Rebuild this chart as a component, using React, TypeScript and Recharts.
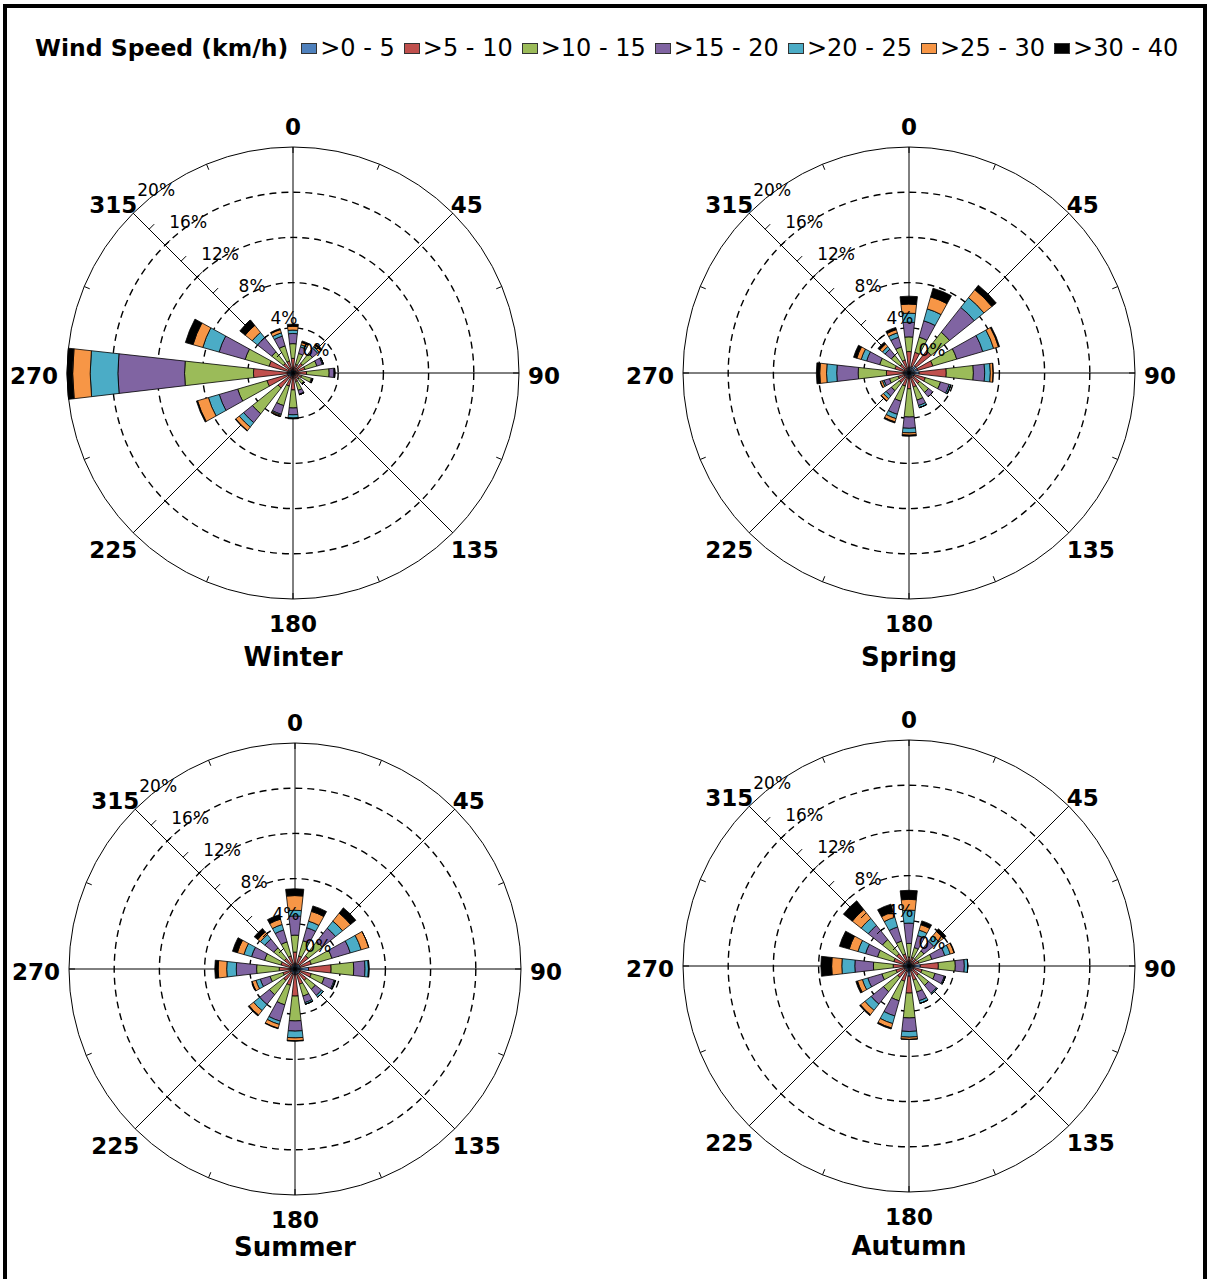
import {
  RadialBarChart,
  RadialBar,
  PolarAngleAxis,
  PolarRadiusAxis,
  PolarGrid,
} from "recharts";

const directions = [0, 22.5, 45, 67.5, 90, 112.5, 135, 157.5, 180, 202.5, 225, 247.5, 270, 292.5, 315, 337.5];
const speedBins = [">0 - 5", ">5 - 10", ">10 - 15", ">15 - 20", ">20 - 25", ">25 - 30", ">30 - 40"];
const binKeys = ["s1", "s2", "s3", "s4", "s5", "s6", "s7"];
const binColors = ["#4F81BD", "#C0504D", "#9BBB59", "#8064A2", "#4BACC6", "#F79646", "#000000"];
const radiusTicks = [0, 2, 4, 6, 8, 10, 12, 14, 16, 18, 20];
const ringValues = [4, 8, 12, 16];
const maxPct = 20;

// frequency (%) per direction, one row per direction, one column per speed bin
const winter = [
  [0.3, 1.0, 1.3, 0.9, 0.3, 0.33, 0.2],
  [0.2, 0.6, 1.0, 0.6, 0.2, 0.2, 0.15],
  [0.3, 0.8, 1.1, 0.6, 0.15, 0.2, 0.15],
  [0.3, 0.8, 1.1, 0.5, 0.1, 0, 0],
  [0.3, 0.9, 2.0, 0.43, 0.07, 0, 0],
  [0.2, 0.6, 0.9, 0.1, 0, 0, 0.05],
  [0.2, 0.5, 0.5, 0.1, 0, 0, 0],
  [0.2, 0.6, 0.8, 0.35, 0.05, 0, 0],
  [0.3, 1.2, 1.6, 0.6, 0.3, 0, 0.07],
  [0.3, 0.9, 1.8, 0.8, 0.1, 0.1, 0],
  [0.4, 1.3, 2.9, 1.0, 0.5, 0.4, 0.05],
  [0.5, 1.9, 2.7, 1.7, 1.0, 1.0, 0.1],
  [0.5, 3.0, 6.1, 5.9, 2.45, 1.55, 0.5],
  [0.4, 1.8, 2.2, 2.4, 1.5, 0.9, 0.7],
  [0.3, 0.8, 1.3, 1.6, 0.6, 0.8, 0.6],
  [0.3, 0.8, 1.4, 0.9, 0.3, 0.3, 0.1],
];

const spring = [
  [0.5, 1.4, 1.3, 1.3, 0.8, 0.8, 0.7],
  [0.6, 1.3, 1.4, 1.5, 1.1, 1.1, 0.8],
  [0.8, 1.7, 2.1, 2.8, 1.1, 0.9, 0.5],
  [0.8, 1.4, 2.2, 2.4, 1.0, 0.45, 0.1],
  [0.9, 2.4, 2.4, 1.0, 0.5, 0.25, 0],
  [0.5, 1.0, 1.4, 0.8, 0.15, 0, 0],
  [0.4, 0.8, 1.0, 0.5, 0, 0, 0],
  [0.4, 0.9, 1.2, 0.5, 0.2, 0, 0],
  [0.5, 0.9, 2.5, 1.0, 0.4, 0.2, 0.1],
  [0.4, 0.8, 1.4, 1.2, 0.4, 0.3, 0.1],
  [0.4, 0.7, 0.9, 0.6, 0.3, 0.25, 0.05],
  [0.4, 0.6, 0.8, 0.5, 0.15, 0.2, 0],
  [0.5, 1.5, 2.5, 1.9, 0.9, 0.6, 0.3],
  [0.4, 0.9, 1.4, 1.2, 0.5, 0.4, 0.3],
  [0.3, 0.7, 1.0, 0.7, 0.3, 0.3, 0.2],
  [0.4, 0.8, 1.2, 0.9, 0.4, 0.3, 0.2],
];

const summer = [
  [0.5, 1.0, 1.5, 1.7, 0.5, 1.3, 0.6],
  [0.4, 0.8, 1.4, 1.2, 0.6, 0.9, 0.5],
  [0.5, 1.0, 1.6, 1.5, 0.8, 0.9, 0.6],
  [0.5, 1.0, 1.9, 1.7, 1.0, 0.7, 0],
  [1.2, 2.0, 2.0, 1.0, 0.3, 0.05, 0],
  [0.5, 1.0, 1.2, 0.9, 0.1, 0, 0.05],
  [0.5, 0.8, 1.0, 0.7, 0.2, 0, 0],
  [0.5, 0.9, 1.1, 0.6, 0.15, 0, 0],
  [0.5, 1.9, 2.2, 0.9, 0.6, 0.25, 0.05],
  [0.5, 1.0, 1.8, 1.5, 0.3, 0.35, 0.05],
  [0.4, 0.9, 1.6, 1.1, 0.7, 0.5, 0.1],
  [0.4, 0.7, 1.2, 0.9, 0.4, 0.35, 0.05],
  [0.4, 1.0, 2.0, 1.8, 0.85, 0.75, 0.3],
  [0.4, 0.9, 1.5, 1.2, 0.7, 0.6, 0.45],
  [0.4, 0.8, 1.2, 1.0, 0.5, 0.3, 0.4],
  [0.4, 0.8, 1.3, 1.1, 0.5, 0.5, 0.4],
];

const autumn = [
  [0.4, 0.4, 1.2, 1.8, 1.15, 0.95, 0.8],
  [0.3, 0.5, 0.9, 1.1, 0.5, 0.5, 0.35],
  [0.3, 0.5, 0.9, 1.1, 0.6, 0.5, 0.3],
  [0.3, 0.6, 1.2, 1.2, 0.5, 0.35, 0.05],
  [1.0, 1.6, 1.5, 0.8, 0.3, 0, 0],
  [0.4, 0.8, 1.2, 0.85, 0.1, 0, 0],
  [0.4, 0.7, 1.1, 0.9, 0.1, 0, 0],
  [0.4, 0.9, 1.1, 0.8, 0.25, 0, 0],
  [0.9, 1.5, 2.2, 1.2, 0.5, 0.2, 0],
  [0.5, 0.9, 1.8, 1.4, 0.7, 0.4, 0.1],
  [0.4, 0.9, 1.6, 1.4, 0.7, 0.5, 0.1],
  [0.4, 0.8, 1.3, 1.3, 0.5, 0.45, 0.15],
  [0.5, 0.9, 1.75, 1.65, 1.15, 0.9, 0.95],
  [0.5, 0.9, 1.5, 1.1, 0.7, 0.8, 0.9],
  [0.4, 1.0, 1.6, 1.6, 0.8, 1.0, 1.0],
  [0.4, 0.7, 1.2, 1.3, 0.9, 0.5, 0.7],
];

const SIZE = 600;
const C = SIZE / 2;
const R = 226;
const HALF_BAND = 360 / directions.length / 2;

const toRows = (values: number[][]) =>
  directions.map((dir, i) => {
    const row: Record<string, number> = { dir };
    binKeys.forEach((key, j) => {
      row[key] = values[i][j];
    });
    return row;
  });

// bold compass labels outside the ring + short inward ticks on the ring
// (with the clockwise range the tick sits on the band edge, so shift by half a band)
const AngleTick = (props: any) => {
  const { payload, index } = props;
  const a = ((payload.coordinate + HALF_BAND) * Math.PI) / 180;
  const ux = Math.cos(a);
  const uy = -Math.sin(a);
  const px = C + R * ux;
  const py = C + R * uy;
  let label = null;
  if (index % 2 === 0) {
    let tx = px;
    let ty = py;
    let anchor: "start" | "middle" | "end" = "middle";
    if (Math.abs(ux) < 0.01) {
      ty = uy < 0 ? py - 12 : py + 33;
    } else if (Math.abs(uy) < 0.01) {
      anchor = ux > 0 ? "start" : "end";
      tx = px + (ux > 0 ? 9 : -9);
      ty = py + 11;
    } else {
      anchor = ux > 0 ? "start" : "end";
      tx = px + (ux > 0 ? -2 : 4);
      ty = uy < 0 ? py : py + 25;
    }
    label = (
      <text
        x={tx}
        y={ty}
        textAnchor={anchor}
        fontFamily="DejaVu Sans, sans-serif"
        fontWeight="bold"
        fontSize={23}
        fill="#000"
      >
        {payload.value}
      </text>
    );
  }
  return (
    <g>
      <line x1={px} y1={py} x2={C + (R - 6) * ux} y2={C + (R - 6) * uy} stroke="#000" strokeWidth={1} />
      {label}
    </g>
  );
};

const RadiusTick = (props: any) => {
  const { x, y, payload } = props;
  const v = payload.value;
  return (
    <g>
      {v > 0 && v < maxPct && <line x1={x} y1={y} x2={x + 5} y2={y - 5} stroke="#000" strokeWidth={1} />}
      {v % 4 === 0 && (
        <text
          x={x + 23}
          y={y - 23}
          textAnchor="middle"
          dominantBaseline="central"
          fontFamily="DejaVu Sans, sans-serif"
          fontSize={17}
          fill="#000"
        >
          {v}%
        </text>
      )}
    </g>
  );
};

const WindRose = ({ values, left, top }: { values: number[][]; left: number; top: number }) => {
  const data = toRows(values);
  return (
    <div style={{ position: "absolute", left, top, width: SIZE, height: SIZE }}>
      <RadialBarChart
        width={SIZE}
        height={SIZE}
        data={data}
        cx={C}
        cy={C}
        innerRadius={0}
        outerRadius={R}
        startAngle={90 - HALF_BAND}
        endAngle={90 - HALF_BAND - 360}
        layout="centric"
        barCategoryGap="22%"
        margin={{ top: 0, right: 0, bottom: 0, left: 0 }}
      >
        <PolarAngleAxis
          type="category"
          dataKey="dir"
          axisLineType="circle"
          axisLine={{ stroke: "#000", strokeWidth: 1 }}
          tickLine={false}
          tick={<AngleTick />}
        />
        <PolarRadiusAxis
          type="number"
          domain={[0, maxPct]}
          ticks={radiusTicks}
          angle={135}
          axisLine={false}
          tickLine={false}
          tick={<RadiusTick />}
        />
        {binKeys.map((k, i) => (
          <RadialBar
            key={k}
            dataKey={k}
            stackId="wind"
            fill={binColors[i]}
            stroke="#000"
            strokeWidth={0.8}
            isAnimationActive={false}
          />
        ))}
        <PolarGrid
          gridType="circle"
          radialLines={false}
          polarAngles={[]}
          polarRadius={ringValues.map((v) => (v / maxPct) * R)}
          stroke="#000"
          strokeWidth={1.4}
          strokeDasharray="7 5"
        />
        <PolarGrid
          gridType="circle"
          polarAngles={[90, 45, 0, -45, -90, -135, -180, -225]}
          polarRadius={[]}
          stroke="#000"
          strokeWidth={1}
        />
      </RadialBarChart>
    </div>
  );
};

const panels = [
  { title: "Winter", values: winter, x: 293, y: 373, titleY: 657 },
  { title: "Spring", values: spring, x: 909, y: 373, titleY: 657 },
  { title: "Summer", values: summer, x: 295, y: 969, titleY: 1247 },
  { title: "Autumn", values: autumn, x: 909, y: 966, titleY: 1246 },
];

export default function App() {
  return (
    <div
      style={{
        position: "absolute",
        left: 0,
        top: 0,
        width: 1209,
        height: 1279,
        overflow: "hidden",
        background: "#fff",
      }}
    >
      <div
        style={{
          position: "absolute",
          left: 3,
          top: 4,
          width: 1204,
          height: 1300,
          border: "4px solid #000",
          boxSizing: "border-box",
        }}
      />
      <div
        style={{
          position: "absolute",
          left: 35,
          top: 34,
          display: "flex",
          alignItems: "center",
          fontFamily: "DejaVu Sans, sans-serif",
          fontSize: 24,
          color: "#000",
          whiteSpace: "nowrap",
        }}
      >
        <span style={{ fontWeight: "bold", fontSize: 23.5, marginRight: 13 }}>Wind Speed (km/h)</span>
        {speedBins.map((b, i) => (
          <span key={b} style={{ display: "flex", alignItems: "center", marginRight: 9 }}>
            <span
              style={{
                display: "inline-block",
                width: 14,
                height: 9,
                background: binColors[i],
                border: "1px solid #333",
                marginRight: 3,
              }}
            />
            {b}
          </span>
        ))}
      </div>
      {panels.map((p) => (
        <div key={p.title}>
          <WindRose values={p.values} left={p.x - C} top={p.y - C} />
          <div
            style={{
              position: "absolute",
              left: p.x - 150,
              width: 300,
              top: p.titleY - 17,
              textAlign: "center",
              fontFamily: "DejaVu Sans, sans-serif",
              fontWeight: "bold",
              fontSize: 26,
              lineHeight: "34px",
            }}
          >
            {p.title}
          </div>
        </div>
      ))}
    </div>
  );
}
